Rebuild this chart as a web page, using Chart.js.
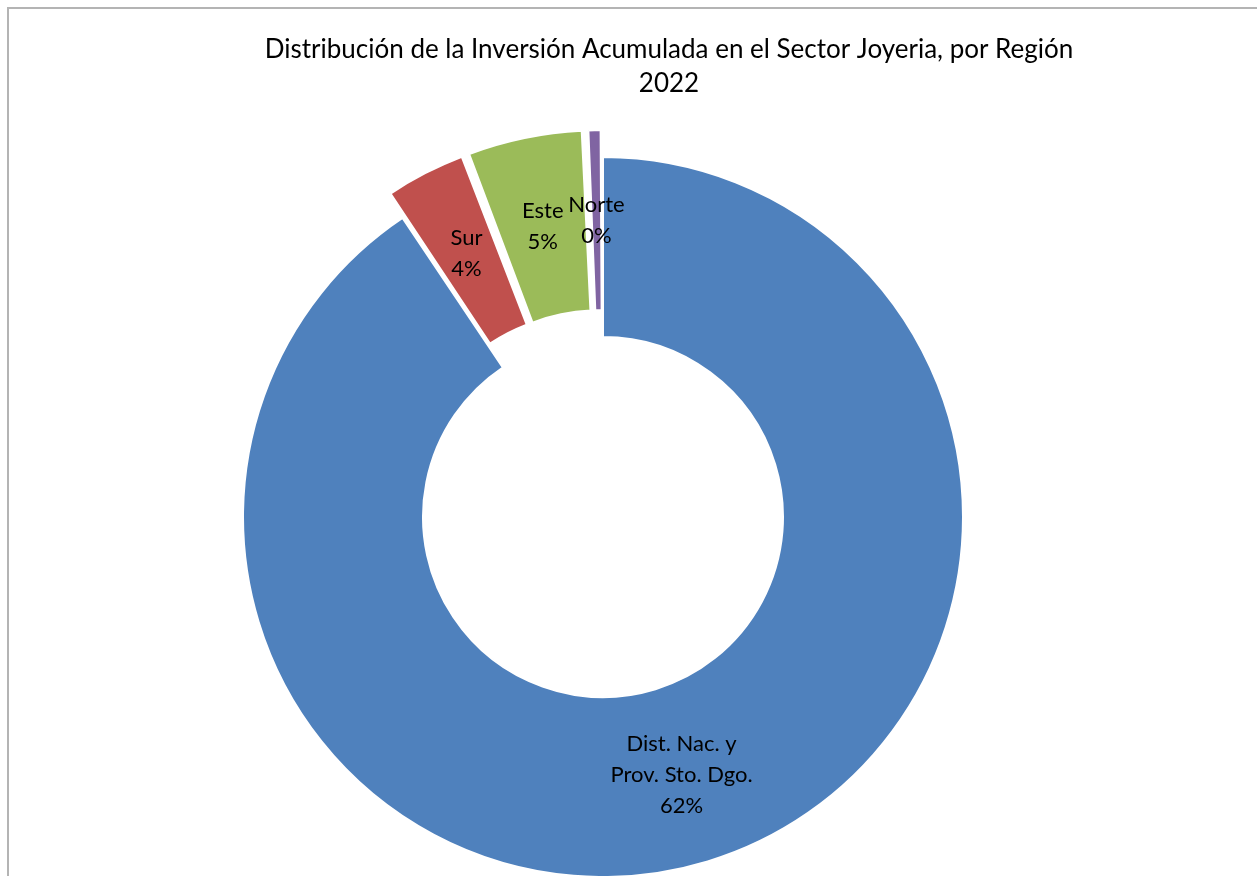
<!DOCTYPE html>
<html lang="es">
<head>
<meta charset="UTF-8">
<title>Inversión Sector Joyeria 2022</title>
<script src="https://cdn.jsdelivr.net/npm/chart.js@4/dist/chart.umd.min.js"></script>
<style>
  html, body { margin: 0; padding: 0; overflow: hidden; background: #fff; }
  #frame { position: absolute; left: 7px; top: 7px; width: 1400px; height: 1000px; border: 2px solid #b4b4b4; box-sizing: border-box; }
  #chart { position: absolute; left: 0; top: 0; }
</style>
</head>
<body>
<div id="frame"></div>
<canvas id="chart" width="1257" height="876"></canvas>
<script>

// regiones, en el orden del dibujo (sentido horario desde arriba)
var categories = [['Dist. Nac. y', 'Prov. Sto. Dgo.'], 'Sur', 'Este', 'Norte'];
var values = [90.6, 3.6, 5.1, 0.7];             // tamaño visual de cada porción
var pctLabels = ['62%', '4%', '5%', '0%'];      // etiqueta que muestra el gráfico
var sliceColors = ['#4F81BD', '#C0504D', '#9BBB59', '#8064A2'];
var explode = [0, 61, 64, 55];                  // separación de las porciones pequeñas
var titleLines = ['Distribución de la Inversión Acumulada en el Sector Joyeria, por Región', '2022'];

var fontFamily = 'Lato, "Open Sans", sans-serif';

// how far ArcElement.draw actually moves a slice for a given offset
function sliceShift(arc, off) {
  var o = (off || 0) / 4;
  var circ = arc.endAngle - arc.startAngle;
  return o + o * (1 - Math.sin(Math.min(Math.PI, circ)));
}

// titulo (centrado sobre el marco, no sobre la dona)
var titleBlock = {
  id: 'titleBlock',
  beforeDraw: function(chart) {
    var ctx = chart.ctx;
    ctx.save();
    ctx.font = '26px ' + fontFamily;
    ctx.fillStyle = '#000';
    ctx.textAlign = 'center';
    ctx.textBaseline = 'middle';
    titleLines.forEach(function(t, k) {
      ctx.fillText(t, 669, 50 + k * 34);
    });
    ctx.restore();
  }
};

// etiquetas de datos dentro de cada porción
var sliceLabels = {
  id: 'sliceLabels',
  afterDatasetsDraw: function(chart) {
    var ctx = chart.ctx;
    var meta = chart.getDatasetMeta(0);
    ctx.save();
    ctx.font = '22px ' + fontFamily;
    ctx.fillStyle = '#000';
    ctx.textAlign = 'center';
    ctx.textBaseline = 'middle';
    meta.data.forEach(function(arc, i) {
      var half = (arc.startAngle + arc.endAngle) / 2;
      var r = (arc.innerRadius + arc.outerRadius) / 2 + sliceShift(arc, explode[i]);
      var x = arc.x + Math.cos(half) * r;
      var y = arc.y + Math.sin(half) * r;
      var lines = [].concat(categories[i], pctLabels[i]);
      var lh = 31;
      var y0 = y - (lines.length - 1) * lh / 2;
      lines.forEach(function(t, k) {
        ctx.fillText(t, x, y0 + k * lh);
      });
    });
    ctx.restore();
  }
};

var ctx = document.getElementById('chart').getContext('2d');
var myChart = new Chart(ctx, {
  type: 'doughnut',
  data: {
    labels: categories,
    datasets: [{
      data: values,
      backgroundColor: sliceColors,
      borderColor: '#ffffff',
      borderWidth: 2,
      offset: explode
    }]
  },
  options: {
    responsive: false,
    animation: false,
    cutout: '50%',
    radius: 360,
    layout: { padding: { left: 0, right: 51, top: 158, bottom: 0 } },
    plugins: {
      legend: { display: false },
      tooltip: { enabled: false },
      title: { display: false }
    }
  },
  plugins: [titleBlock, sliceLabels]
});
</script>
</body>
</html>
